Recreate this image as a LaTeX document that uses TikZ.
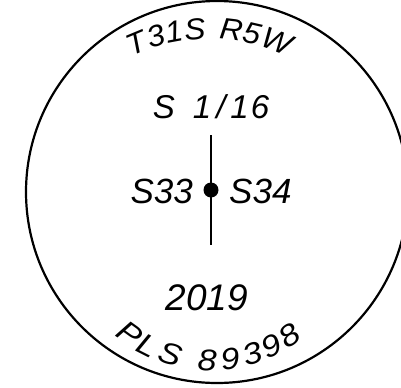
\documentclass[tikz,border=0pt]{standalone}
\usepackage{fontspec}
\setmainfont{Liberation Sans}
\begin{document}
\begin{tikzpicture}[x=1bp,y=-1bp,
  lbl/.style={inner sep=0pt, font=\fontsize{35bp}{35bp}\selectfont\itshape},
  arcl/.style={inner sep=0pt, anchor=center, text height=21.5bp, text depth=0pt,
    font=\fontsize{30bp}{30bp}\selectfont\itshape}]
\useasboundingbox (0,0) rectangle (401,388);
\clip (0,0) rectangle (401,388);
\draw[line width=2.2bp] (217,192) circle[radius=191];
% top arc text
\foreach \c/\a [count=\i] in {T/-22.6, 3/-16.2, 1/-10.5, S/-4.3, R/6.8, 5/13.1, W/21.2}
  \node[arcl, rotate={0-(\a)}, xscale=1.05] (top\i) at ({209+190*sin(\a)},{218-190*cos(\a)}) {\c};
% bottom arc text
\foreach \c/\a [count=\i] in {P/-35.8, L/-27.0, S/-17.2, 8/-1.6, 9/8.0, 3/17.4, 9/26.1, 8/34.6}
  \node[arcl, rotate=\a, xscale=1.14] (bot\i) at ({211+138*sin(\a)},{222+138*cos(\a)}) {\c};
% centre
\node[lbl, font=\fontsize{33bp}{33bp}\selectfont\itshape, anchor=base] (frac) at (211,118)
  {S\hspace{0.55em}1\kern5bp/\kern5bp1\kern2bp6};
\coordinate (vt) at (211,135);
\coordinate (vb) at (211,245);
\draw[line width=1.6bp] (vt) -- (vb);
\node[circle, fill, inner sep=0pt, minimum size=15bp] (dot) at (211,190) {};
\node[lbl, anchor=base east] (s33) at (193,203) {S33};
\node[lbl, anchor=base west] (s34) at (229,203) {S34};
\node[lbl, font=\fontsize{37bp}{37bp}\selectfont\itshape, anchor=base] (yr) at (207,310) {2019};
\end{tikzpicture}
\end{document}
